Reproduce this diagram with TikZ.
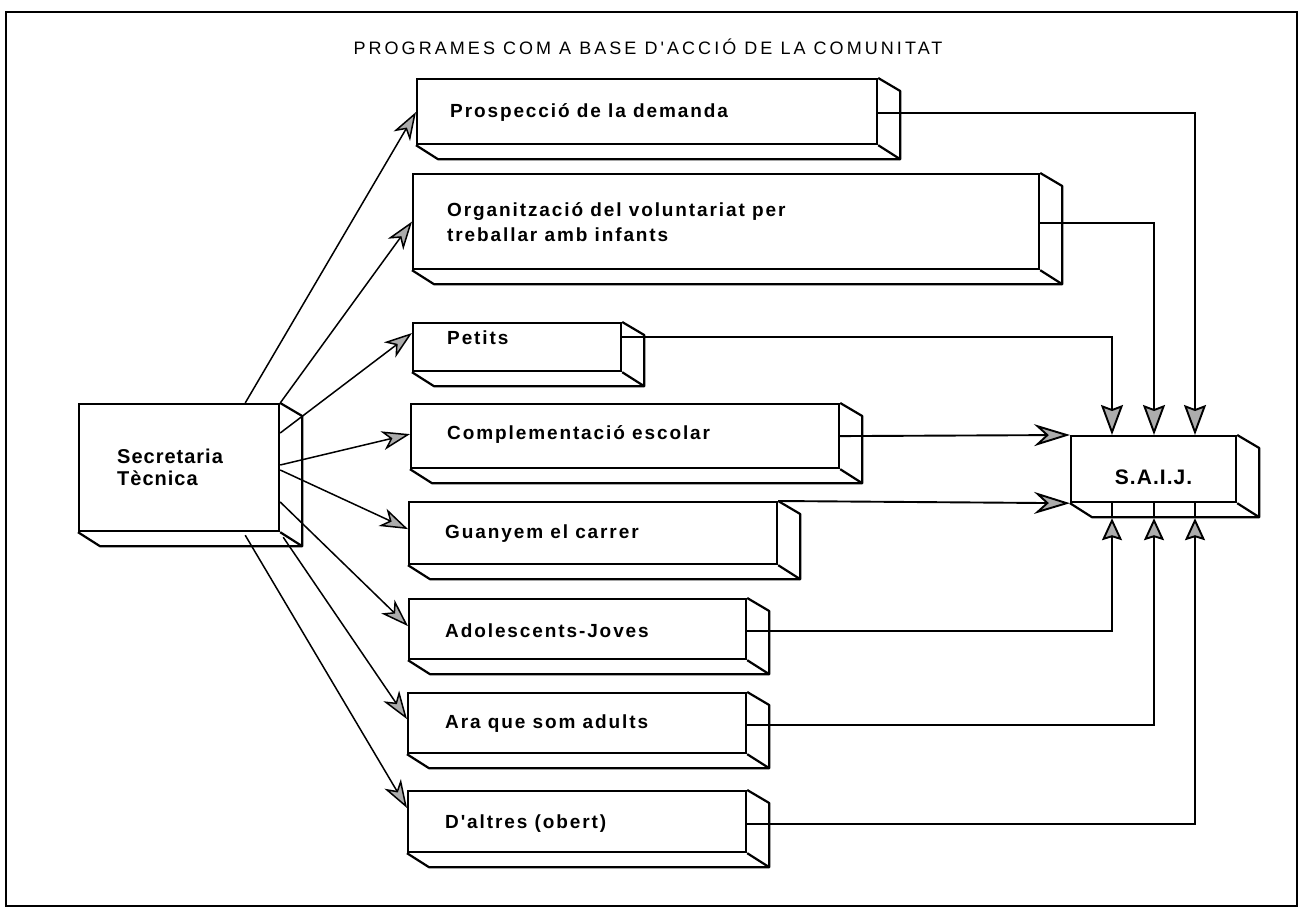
\documentclass[tikz,border=0pt]{standalone}
\usepackage{fontspec}
\setmainfont{Liberation Sans}
\newfontfamily\boxfont[LetterSpace=10]{Liberation Sans}
\newfontfamily\titlefont[LetterSpace=17]{Liberation Sans}
\newfontfamily\headfont[LetterSpace=5]{Liberation Sans}
\usetikzlibrary{arrows.meta,calc}
\tikzset{
  tdbox/.style={draw, line width=2.2pt, fill=white, anchor=north west, inner sep=0pt},
  boxedge/.style={line width=2.2pt, line join=round},
  lbl/.style={font=\boxfont\bfseries\fontsize{19}{25}\selectfont, anchor=west, inner sep=0pt, align=left},
  head/.style={font=\headfont\bfseries\fontsize{20}{22}\selectfont, inner sep=0pt, align=left},
  outarr/.style={line width=1.5pt, -{Stealth[length=28pt,width=19pt,inset=8pt,fill=gray!65]}},
  conn/.style={line width=1.9pt},
  inarr/.style={line width=1.9pt, -{Stealth[length=36pt,width=22pt,inset=12pt,fill=gray!65]}},
  downarr/.style={line width=1.9pt, -{Stealth[length=30pt,width=22pt,inset=4pt,fill=gray!65]}},
  uparr/.style={line width=1.9pt, -{Stealth[length=22pt,width=20pt,inset=3pt,fill=gray!65]}}
}
\newcommand\mydepth[1]{%
  \draw[boxedge] (#1.north east) -- ++(22,13) -- ($(#1.south east)+(22pt,-14pt)$)
     -- ($(#1.south west)+(22pt,-14pt)$) -- (#1.south west);
  \draw[boxedge] (#1.south east) -- ++(22,14);}
\begin{document}
\begin{tikzpicture}[x=1pt,y=-1pt]
\useasboundingbox (0,0) rectangle (1299,915);
\draw[line width=2pt] (6,12) rectangle (1297,906);

\node[font=\titlefont\fontsize{18}{22}\selectfont, inner sep=0pt] (title) at (648,47) {PROGRAMES COM A BASE D'ACCIÓ DE LA COMUNITAT};

% boxes
\node[tdbox, minimum width=200pt, minimum height=127pt] (sec) at (78,403) {};
\node[tdbox, minimum width=460pt, minimum height=65pt] (p1) at (416,78) {};
\node[tdbox, minimum width=626pt, minimum height=95pt] (p2) at (412,173) {};
\node[tdbox, minimum width=208pt, minimum height=48pt] (p3) at (412,322) {};
\node[tdbox, minimum width=428pt, minimum height=64pt] (p4) at (410,403) {};
\node[tdbox, minimum width=368pt, minimum height=62pt] (p5) at (408,501) {};
\node[tdbox, minimum width=337pt, minimum height=60pt] (p6) at (408,598) {};
\node[tdbox, minimum width=338pt, minimum height=60pt] (p7) at (407,692) {};
\node[tdbox, minimum width=338pt, minimum height=61pt] (p8) at (407,790) {};
\node[tdbox, minimum width=165pt, minimum height=66pt] (saij) at (1070,435) {};
\foreach \b in {sec,p1,p2,p3,p4,p5,p6,p7,p8,saij} {\mydepth{\b}}

% labels
\node[head, anchor=west] (sect) at (117,467) {Secretaria\\Tècnica};
\node[head, font=\headfont\bfseries\fontsize{21}{25}\selectfont] (saijt) at ([yshift=-8pt]saij.center) {S.A.I.J.};
\node[lbl] (p1t) at ([xshift=34pt,yshift=-1pt]p1.west) {Prospecció de la demanda};
\node[lbl] (p2t) at ([xshift=35pt,yshift=-1pt]p2.west) {Organització del voluntariat per\\treballar amb infants};
\node[lbl] (p3t) at ([xshift=35pt,yshift=9pt]p3.west) {Petits};
\node[lbl] (p4t) at ([xshift=37pt,yshift=2pt]p4.west) {Complementació escolar};
\node[lbl] (p5t) at ([xshift=37pt]p5.west) {Guanyem el carrer};
\node[lbl] (p6t) at ([xshift=37pt,yshift=-2pt]p6.west) {Adolescents-Joves};
\node[lbl] (p7t) at ([xshift=38pt]p7.west) {Ara que som adults};
\node[lbl] (p8t) at ([xshift=38pt,yshift=-2pt]p8.west) {D'altres (obert)};

% from Secretaria Tecnica
\draw[outarr] ([xshift=-35pt]sec.north east) -- ([yshift=-34pt]p1.north west);
\draw[outarr] (sec.north east) -- (p2.west);
\draw[outarr] ([yshift=-30pt]sec.north east) -- ([yshift=-11pt]p3.north west);
\draw[outarr] ([yshift=-62pt]sec.north east) -- ([yshift=2pt]p4.west);
\draw[outarr] ([yshift=-67pt]sec.north east) -- ([yshift=4pt]p5.west);
\draw[outarr] ([yshift=-99pt]sec.north east) -- ([yshift=3pt]p6.west);
\draw[outarr] ([shift={(3pt,-5pt)}]sec.south east) -- ([yshift=4pt]p7.west);
\draw[outarr] ([shift={(-35pt,-3pt)}]sec.south east) -- ([yshift=-18pt]p8.north west);

% to S.A.I.J.
\draw[downarr] ([yshift=-1pt]p1.east) -| ($(saij.north west)+(125pt,0)$);
\draw[downarr] ([yshift=-1pt]p2.east) -| ($(saij.north west)+(84pt,0)$);
\draw[downarr] ([yshift=-15pt]p3.north east) -| ($(saij.north west)+(42pt,0)$);
\draw[inarr] (p4.east) -- (saij.north west);
\draw[inarr] (p5.north east) -- (saij.south west);
\coordinate (b1) at ($(saij.south west)+(42pt,-15pt)$);
\coordinate (b2) at ($(saij.south west)+(84pt,-15pt)$);
\coordinate (b3) at ($(saij.south west)+(125pt,-15pt)$);
\draw[uparr] ([yshift=-2pt]p6.east) -| (b1);
\draw[uparr] ([yshift=-2pt]p7.east) -| (b2);
\draw[uparr] ([yshift=-2pt]p8.east) -| (b3);
\draw[conn] (b1) -- (b1 |- saij.south);
\draw[conn] (b2) -- (b2 |- saij.south);
\draw[conn] (b3) -- (b3 |- saij.south);
\end{tikzpicture}
\end{document}
